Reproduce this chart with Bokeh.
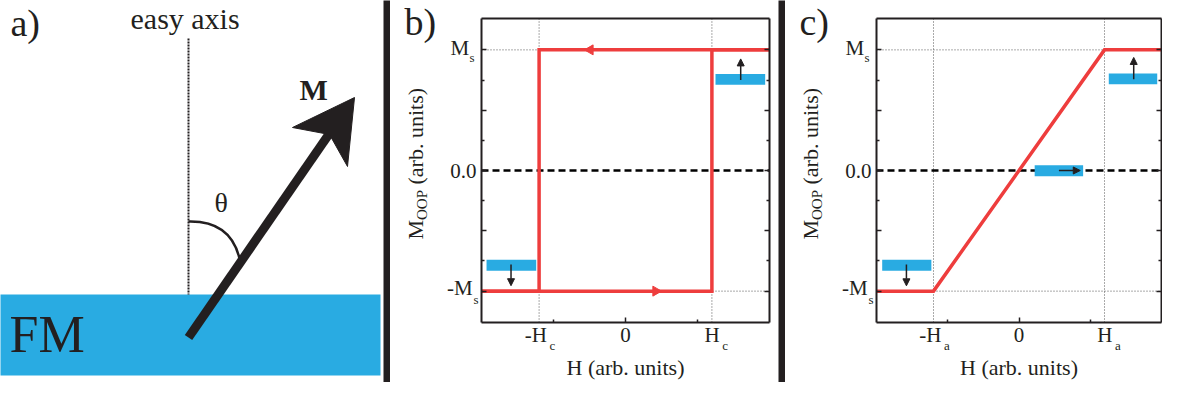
from math import pi
from bokeh.plotting import figure
from bokeh.models import Range1d, FixedTicker, LinearAxis, Label, Arrow, NormalHead
from bokeh.layouts import row
from bokeh.embed import file_html
from bokeh.resources import INLINE
from bokeh.core.properties import value

FONT = "Liberation Serif"
DARK = "#231F20"
BLUE = "#29ABE2"
RED = "#EE3D3D"
GRID = "#555555"
K = 0.42  # baseline correction (fraction of font size) for rendered text

# ---------------- panel a: sketch (coordinates in sketch units) ----------------
fm_left, fm_right, fm_top, fm_bottom = [6], [388], [300], [381]
sep1_left, sep1_right, sep1_top, sep1_bottom = [391], [398], [0], [398]
easy_axis_x = [196, 196]
easy_axis_y = [44, 300]
m_shaft_x = [196, 339]
m_shaft_y = [343, 136]
m_head_x = [362, 300, 337, 355]
m_head_y = [103, 133, 140, 172]
theta_arc = dict(x0=[196], y0=[227], cx=[238], cy=[226], x1=[247], y1=[264])
a_texts = ["a)", "easy axis", "M", "\u03b8", "FM"]
a_text_x = [18, 138, 307, 222, 17]
a_text_y = [44, 37, 108, 220, 362]

# ---------------- panels b, c: axes extents ----------------
X_LO, X_HI = -2.0, 2.0
Y_LO, Y_HI = -1.26, 1.26

# ---------------- panel b: square hysteresis loop ----------------
H_C = 1.2
b_up_H = [-2.0, 1.2, 1.2, 2.0]
b_up_M = [-1.0, -1.0, 1.0, 1.0]
b_down_H = [2.0, -1.2, -1.2, -2.0]
b_down_M = [1.0, 1.0, -1.0, -1.0]
b_dir_H = [-0.49, 0.42]
b_dir_M = [1.0, -1.0]
b_dir_angle = [pi / 2, -pi / 2]
b_layer_left = [1.25, -1.93]
b_layer_right = [1.94, -1.24]
b_layer_top = [0.80, -0.74]
b_layer_bottom = [0.71, -0.83]
b_spin_x0 = [1.60, -1.59]
b_spin_y0 = [0.75, -0.78]
b_spin_x1 = [1.60, -1.59]
b_spin_y1 = [0.925, -0.955]

# ---------------- panel c: hard-axis linear magnetisation ----------------
H_A = 1.2
c_H = [-2.0, -1.2, 1.2, 2.0]
c_M = [-1.0, -1.0, 1.0, 1.0]
c_layer_left = [1.26, -1.92, 0.22]
c_layer_right = [1.94, -1.23, 0.90]
c_layer_top = [0.805, -0.74, 0.044]
c_layer_bottom = [0.715, -0.83, -0.047]
c_spin_x0 = [1.61, -1.58, 0.56]
c_spin_y0 = [0.756, -0.78, 0.0]
c_spin_x1 = [1.61, -1.58, 0.86]
c_spin_y1 = [0.937, -0.956, 0.0]

# ticks / labels
x_major = [0.0]
x_minor = [-1.0, 1.0]
y_major = [-1.0, -0.5, 0.0, 0.5, 1.0]
y_minor = [-0.75, -0.25, 0.25, 0.75]
y_tick_values = [1.0, -1.0]
y_tick_main = ["M", "-M"]
y_tick_sub = ["s", "s"]
b_x_tick_values = [-H_C, H_C]
b_x_tick_main = ["-H", "H"]
b_x_tick_sub = ["c", "c"]
c_x_tick_values = [-H_A, H_A]
c_x_tick_main = ["-H", "H"]
c_x_tick_sub = ["a", "a"]
x_label = "H (arb. units)"
y_label_main, y_label_sub, y_label_rest = "M", "OOP", "(arb. units)"

H = 382


def label(p, x, y, text, size, dx=0, dy=0, align="left", angle=0):
    if angle == 0:
        dy = dy + K * size
    else:
        dx = dx - K * size
    p.add_layout(Label(x=x, y=y, x_offset=dx, y_offset=dy, text=text,
                       text_font=FONT, text_font_size=f"{size}px", text_color=DARK,
                       text_align=align, text_baseline="alphabetic", angle=angle))


# ---------- panel a ----------
pa = figure(width=390, height=H, x_range=Range1d(8, 398), y_range=Range1d(388, 6),
            x_axis_type=None, y_axis_type=None, output_backend="svg",
            toolbar_location=None, min_border=0)
pa.outline_line_color = None
pa.grid.visible = False
pa.quad(left=fm_left, right=fm_right, top=fm_top, bottom=fm_bottom,
        fill_color=BLUE, line_color=None)
pa.quad(left=sep1_left, right=sep1_right, top=sep1_top, bottom=sep1_bottom,
        fill_color=DARK, line_color=None)
pa.line(easy_axis_x, easy_axis_y, line_color=DARK, line_width=2, line_dash="2 1")
pa.quadratic(line_color=DARK, line_width=2.5, **theta_arc)
pa.line(m_shaft_x, m_shaft_y, line_color=DARK, line_width=9, line_cap="butt")
pa.patch(m_head_x, m_head_y, fill_color=DARK, line_color=DARK, line_width=1)
a_sizes = [38, 30, 30, 28, 52]
a_styles = ["normal", "normal", "bold", "normal", "normal"]
for t, x, y, s, st in zip(a_texts, a_text_x, a_text_y, a_sizes, a_styles):
    pa.text(x=[x], y=[y - K * s], text=[t], text_font=value(FONT), text_font_size=f"{s}px",
            text_font_style=st, text_color=DARK, text_baseline="alphabetic",
            text_align="left")


def style_axis(ax):
    ax.axis_line_width = 2
    ax.axis_line_color = DARK
    ax.major_tick_line_color = DARK
    ax.minor_tick_line_color = DARK
    ax.major_tick_line_width = 1.5
    ax.minor_tick_line_width = 1.5
    ax.major_tick_in = 5
    ax.major_tick_out = 0
    ax.minor_tick_in = 3
    ax.minor_tick_out = 0
    ax.major_label_text_font = FONT
    ax.major_label_text_font_size = "21px"
    ax.major_label_text_color = DARK
    ax.major_label_standoff = 5


def loop_panel(width, box, tick_vals, tick_main, tick_sub, tag):
    L, R, T, B = box  # pixel box of the axes inside the figure
    sx = (R - L) / (X_HI - X_LO)
    sy = (B - T) / (Y_HI - Y_LO)
    p = figure(width=width, height=H,
               x_range=Range1d(X_LO - L / sx, X_HI + (width - R) / sx),
               y_range=Range1d(Y_LO - (H - B) / sy, Y_HI + T / sy),
               x_axis_type=None, y_axis_type=None, min_border=0,
               output_backend="svg", toolbar_location=None)
    p.grid.visible = False
    p.outline_line_color = None
    left = LinearAxis(ticker=FixedTicker(ticks=y_major, minor_ticks=y_minor),
                      fixed_location=X_LO, bounds=(Y_LO, Y_HI),
                      major_label_overrides={v: ("0.0" if v == 0 else "") for v in y_major})
    right = LinearAxis(ticker=FixedTicker(ticks=y_major, minor_ticks=y_minor),
                       fixed_location=X_HI, bounds=(Y_LO, Y_HI),
                       major_label_overrides={v: "" for v in y_major})
    bottom = LinearAxis(ticker=FixedTicker(ticks=x_major, minor_ticks=x_minor),
                        fixed_location=Y_LO, bounds=(X_LO, X_HI))
    top = LinearAxis(ticker=FixedTicker(ticks=[], minor_ticks=[]),
                     fixed_location=Y_HI, bounds=(X_LO, X_HI))
    for ax, side in ((left, "left"), (right, "right"), (bottom, "below"), (top, "above")):
        style_axis(ax)
        p.add_layout(ax, side)
    # guide lines
    p.segment(x0=tick_vals, y0=[Y_LO] * len(tick_vals), x1=tick_vals, y1=[Y_HI] * len(tick_vals),
              line_color=GRID, line_width=1, line_dash="1 2")
    p.segment(x0=[X_LO] * 2, y0=y_tick_values, x1=[X_HI] * 2, y1=y_tick_values,
              line_color=GRID, line_width=1, line_dash="1 2")
    p.segment(x0=[X_LO], y0=[0], x1=[X_HI], y1=[0], line_color="black", line_width=2.5,
              line_dash="7 4")
    # tick labels with subscripts
    for v, m, s in zip(y_tick_values, y_tick_main, y_tick_sub):
        if m == "M":
            label(p, X_LO, v, m, 21, dx=-31, dy=-6.8)
            label(p, X_LO, v, s, 13, dx=-12, dy=-12.8)
        else:
            label(p, X_LO, v, m, 21, dx=-34.5, dy=-5.8)
            label(p, X_LO, v, s, 13, dx=-8, dy=-14.2)
    for v, m, s in zip(tick_vals, tick_main, tick_sub):
        label(p, v, Y_LO, m, 21, dx=7.8, dy=-21.3, align="right")
        label(p, v, Y_LO, s, 13, dx=10.4, dy=-28.7)
    label(p, 0, Y_LO, x_label, 22, dy=-54, align="center")
    label(p, X_LO, 0, y_label_main, 22, dx=-57, dy=-69, angle=pi / 2)
    label(p, X_LO, 0, y_label_sub, 15, dx=-53.5, dy=-49.5, angle=pi / 2)
    label(p, X_LO, 0, y_label_rest, 22, dx=-57, dy=-14, angle=pi / 2)
    label(p, X_LO, Y_HI, tag, 38, dx=-77, dy=-19)
    return p


pb = loop_panel(388, (91, 379, 18, 322), b_x_tick_values, b_x_tick_main, b_x_tick_sub, "b)")
pb.line(b_up_H, b_up_M, line_color=RED, line_width=3.5, line_join="miter")
pb.line(b_down_H, b_down_M, line_color=RED, line_width=3.5, line_join="miter")
pb.scatter(b_dir_H, b_dir_M, marker="triangle", size=10, angle=b_dir_angle,
           fill_color=RED, line_color=RED)
pb.quad(left=b_layer_left, right=b_layer_right, top=b_layer_top, bottom=b_layer_bottom,
        fill_color=BLUE, line_color=None)
for x0, y0, x1, y1 in zip(b_spin_x0, b_spin_y0, b_spin_x1, b_spin_y1):
    pb.add_layout(Arrow(end=NormalHead(size=7, fill_color=DARK, line_color=DARK, line_width=1),
                        x_start=x0, y_start=y0, x_end=x1, y_end=y1,
                        line_color=DARK, line_width=1.5))

sep2 = figure(width=7, height=H, x_axis_type=None, y_axis_type=None, min_border=0,
              output_backend="svg", toolbar_location=None)
sep2.outline_line_color = None
sep2.background_fill_color = DARK
sep2.border_fill_color = DARK
sep2.grid.visible = False

pc = loop_panel(377, (91, 376, 18, 322), c_x_tick_values, c_x_tick_main, c_x_tick_sub, "c)")
pc.line(c_H, c_M, line_color=RED, line_width=3.5, line_join="miter")
pc.quad(left=c_layer_left, right=c_layer_right, top=c_layer_top, bottom=c_layer_bottom,
        fill_color=BLUE, line_color=None)
for x0, y0, x1, y1 in zip(c_spin_x0, c_spin_y0, c_spin_x1, c_spin_y1):
    pc.add_layout(Arrow(end=NormalHead(size=7, fill_color=DARK, line_color=DARK, line_width=1),
                        x_start=x0, y_start=y0, x_end=x1, y_end=y1,
                        line_color=DARK, line_width=1.5))

layout = row(pa, pb, sep2, pc)
open("out.html", "w").write(file_html(layout, INLINE))
